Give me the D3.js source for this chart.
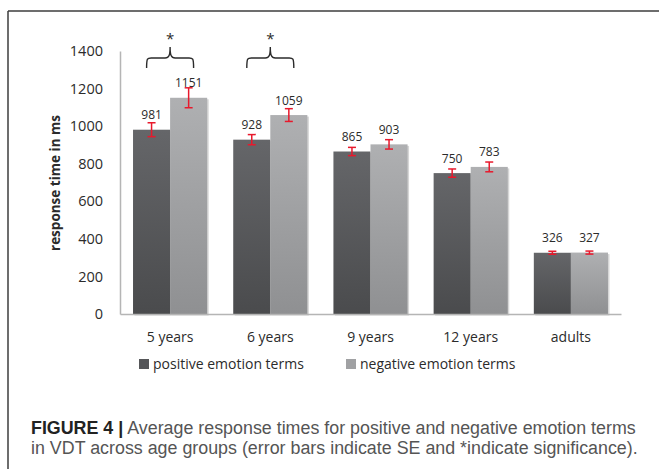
<!DOCTYPE html>
<html>
<head>
<meta charset="utf-8">
<script src="https://cdn.jsdelivr.net/npm/d3@7"></script>
<style>
body{margin:0;background:#fff;}
svg{display:block;}
</style>
</head>
<body>
<svg id="chart" width="659" height="469"></svg>
<script>
// data
var groups = ["5 years","6 years","9 years","12 years","adults"];
var seriesNames = ["positive emotion terms","negative emotion terms"];
var positive = [981, 928, 865, 750, 326];
var negative = [1151, 1059, 903, 783, 327];
var positiveSE = [37, 27, 22, 22, 8];
var negativeSE = [53, 34, 25, 26, 8];
var significant = ["5 years","6 years"];
var yTicks = [0,200,400,600,800,1000,1200,1400];

var svg = d3.select("#chart");

// frame
svg.append("line").attr("x1",8).attr("x2",659).attr("y1",11).attr("y2",11)
	.attr("stroke","#3c3c3c").attr("stroke-width",1.5);
svg.append("line").attr("x1",8).attr("x2",8).attr("y1",11).attr("y2",469)
	.attr("stroke","#3c3c3c").attr("stroke-width",1.5);

var defs = svg.append("defs");
function grad(id, top, bottom){
	var g = defs.append("linearGradient").attr("id",id)
		.attr("x1",0).attr("x2",0).attr("y1",0).attr("y2",1);
	g.append("stop").attr("offset","0%").attr("stop-color",top);
	g.append("stop").attr("offset","100%").attr("stop-color",bottom);
}
grad("gDark","#656669","#4a4b4d");
grad("gLight","#afb0b2","#8f9092");
var fills = ["url(#gDark)","url(#gLight)"];
var legendFills = ["#555659","#a0a1a3"];

var x = d3.scaleBand().domain(groups).range([120,621]).paddingInner(0.26).paddingOuter(0.13);
var xs = d3.scaleBand().domain([0,1]).range([0,x.bandwidth()]);
var y = d3.scaleLinear().domain([0,1400]).range([314,51]);

var rows = [];
groups.forEach(function(g,i){
	rows.push({g:g,s:0,v:positive[i],e:positiveSE[i]});
	rows.push({g:g,s:1,v:negative[i],e:negativeSE[i]});
});

var font = "'Open Sans', sans-serif";

// y axis
var yAxis = d3.axisLeft(y).tickValues(yTicks).tickFormat(d3.format("d")).tickSize(0).tickPadding(17);
var ya = svg.append("g").attr("transform","translate(120,0)").call(yAxis);
ya.select(".domain").attr("stroke","#b5b5b5").attr("stroke-width",1.5);
ya.selectAll("text").attr("font-family",font).attr("font-size",14.5).attr("fill","#2b2b2b");

// bars
var bars = svg.append("g");
bars.selectAll(".shadow").data(rows).enter().append("rect")
	.attr("x",function(d){return x(d.g)+xs(d.s)+1.5;})
	.attr("y",function(d){return y(d.v)+1.5;})
	.attr("width",xs.bandwidth())
	.attr("height",function(d){return y(0)-y(d.v);})
	.attr("fill","#d6d6d6");
bars.selectAll(".bar").data(rows).enter().append("rect")
	.attr("x",function(d){return x(d.g)+xs(d.s);})
	.attr("y",function(d){return y(d.v);})
	.attr("width",xs.bandwidth())
	.attr("height",function(d){return y(0)-y(d.v);})
	.attr("fill",function(d){return fills[d.s];});

// x axis
var xAxis = d3.axisBottom(x).tickSize(0).tickPadding(18);
var xa = svg.append("g").attr("transform","translate(0,314)").call(xAxis);
xa.select(".domain").attr("stroke","#b5b5b5").attr("stroke-width",1.5);
xa.selectAll("text").attr("font-family",font).attr("font-size",14).attr("fill","#2b2b2b");

// error bars
var eb = svg.append("g").attr("stroke","#e8192c").attr("stroke-width",1.5);
rows.forEach(function(d){
	var cx = x(d.g)+xs(d.s)+xs.bandwidth()/2;
	eb.append("line").attr("x1",cx).attr("x2",cx).attr("y1",y(d.v+d.e)).attr("y2",y(d.v-d.e));
	eb.append("line").attr("x1",cx-4).attr("x2",cx+4).attr("y1",y(d.v+d.e)).attr("y2",y(d.v+d.e));
	eb.append("line").attr("x1",cx-4).attr("x2",cx+4).attr("y1",y(d.v-d.e)).attr("y2",y(d.v-d.e));
});

// value labels
svg.append("g").selectAll("text").data(rows).enter().append("text")
	.attr("x",function(d){return x(d.g)+xs(d.s)+xs.bandwidth()/2;})
	.attr("y",function(d){return y(d.v)-10.5;})
	.attr("text-anchor","middle")
	.attr("font-family",font).attr("font-size",12).attr("fill","#2b2b2b")
	.text(function(d){return d.v;});

// significance braces
var br = svg.append("g");
significant.forEach(function(g){
	var c = x(g)+x.bandwidth()/2;
	var w = 23.5;
	var top = y(1400)-4, mid = y(1400)+7, end = y(1400)+17;
	var p = "M"+(c-w)+","+end+
		" C"+(c-w)+","+(mid-1)+" "+(c-w+1)+","+mid+" "+(c-w+6)+","+mid+
		" L"+(c-5)+","+mid+
		" C"+(c-1)+","+mid+" "+c+","+(mid-3)+" "+c+","+top+
		" C"+c+","+(mid-3)+" "+(c+1)+","+mid+" "+(c+5)+","+mid+
		" L"+(c+w-6)+","+mid+
		" C"+(c+w-1)+","+mid+" "+(c+w)+","+(mid-1)+" "+(c+w)+","+end;
	br.append("path").attr("d",p).attr("fill","none").attr("stroke","#2b2b2b").attr("stroke-width",1.4);
	br.append("text").attr("x",c).attr("y",top-3).attr("text-anchor","middle")
		.attr("font-family",font).attr("font-size",15).attr("fill","#2b2b2b").text("*");
});

// y title
svg.append("text")
	.attr("transform","translate(60,183) rotate(-90)")
	.attr("text-anchor","middle")
	.attr("font-family",font).attr("font-size",13.5).attr("font-weight","bold").attr("fill","#2b2b2b")
	.text("response time in ms");

// legend
var lx = [139, 346];
seriesNames.forEach(function(n,i){
	svg.append("rect").attr("x",lx[i]).attr("y",359).attr("width",10).attr("height",10).attr("fill",legendFills[i]);
	svg.append("text").attr("x",lx[i]+14).attr("y",369)
		.attr("font-family",font).attr("font-size",14).attr("fill","#2b2b2b").text(n);
});

// caption
var capFont = "'Liberation Sans', Arial, sans-serif";
var l1 = svg.append("text").attr("x",31).attr("y",434).attr("font-family",capFont).attr("font-size",17).attr("fill","#555");
l1.append("tspan").attr("font-weight","bold").attr("fill","#222").text("FIGURE 4 |");
l1.append("tspan").text(" Average response times for positive and negative emotion terms");
var l2 = svg.append("text").attr("x",31).attr("y",454).attr("font-family",capFont).attr("font-size",17).attr("fill","#555")
	.text("in VDT across age groups (error bars indicate SE and *indicate significance).");
var w1 = l1.node().getComputedTextLength();
var fs = 17*605/w1;
l1.attr("font-size",fs);
l2.attr("font-size",fs);
</script>
</body>
</html>
